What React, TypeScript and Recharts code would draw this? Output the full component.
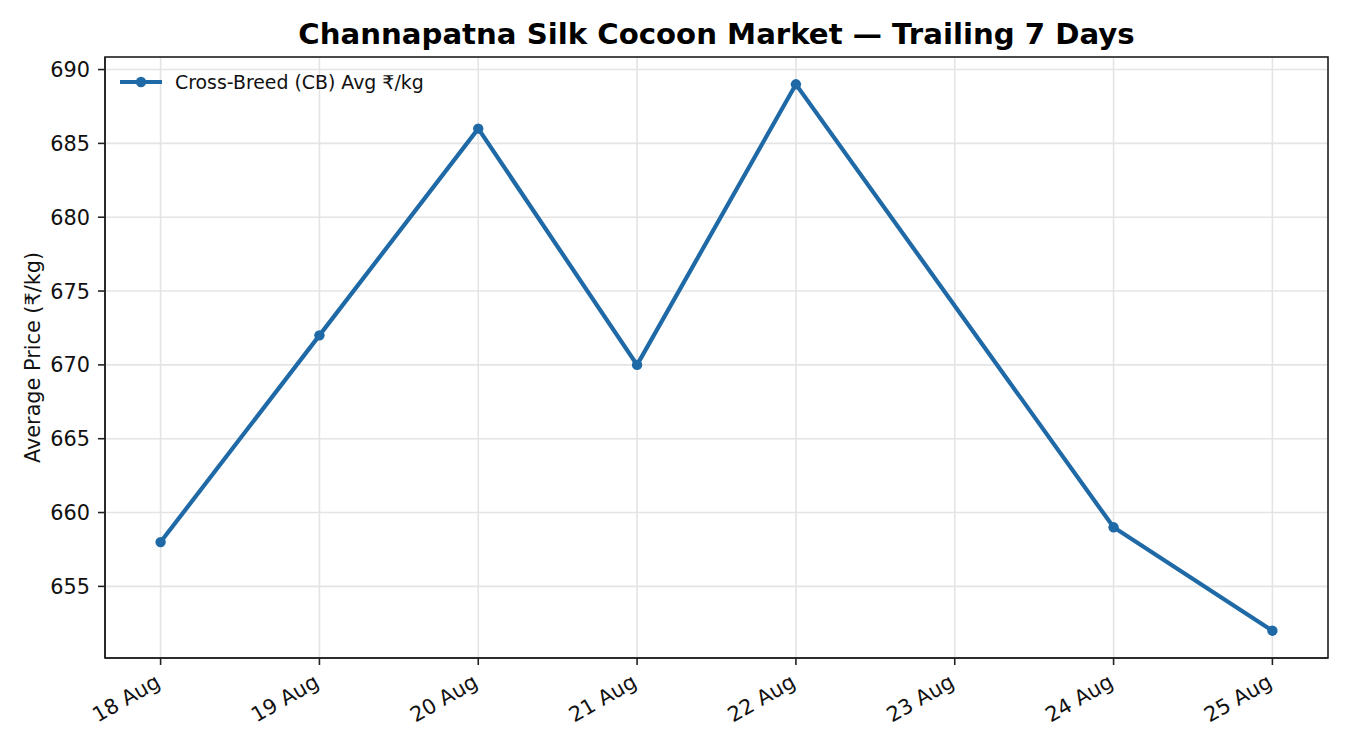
import React from 'react';
import { LineChart, Line, XAxis, YAxis, CartesianGrid } from 'recharts';

const dates = ['18 Aug', '19 Aug', '20 Aug', '21 Aug', '22 Aug', '23 Aug', '24 Aug', '25 Aug'];
// 23 Aug has no reading, the line just runs through it
const cbPrice: (number | null)[] = [658, 672, 686, 670, 689, null, 659, 652];
const priceTicks = [655, 660, 665, 670, 675, 680, 685, 690];

const BLUE = '#1f6aa6';
const FONT = '"DejaVu Sans", sans-serif';
const W = 1350;
const H = 750;
const M = { top: 57, right: 22, bottom: 0, left: 0 };
const Y_W = 105;
const X_H = 92;
const LW = 4.2;
const DOT_R = 5.2;

const data = dates.map((d, i) => ({ idx: i, date: d, price: cbPrice[i] }));

const DateTick = ({ x, y, payload }: any) => (
  <text
    x={x + 1}
    y={y + 19}
    transform={`rotate(-30, ${x + 1}, ${y + 19})`}
    textAnchor="end"
    fontSize={20.8}
    fontFamily={FONT}
    fill="#111"
  >
    {dates[payload.value]}
  </text>
);

const PriceTick = ({ x, y, payload }: any) => (
  <text x={x} y={y} dy="0.36em" textAnchor="end" fontSize={20.8} fontFamily={FONT} fill="#111">
    {payload.value}
  </text>
);

export default function App() {
  const plotX = M.left + Y_W;
  const plotY = M.top;
  const plotW = W - M.right - plotX;
  const plotH = H - M.bottom - X_H - plotY;

  return (
    <div style={{ position: 'absolute', left: 0, top: 0, width: W, height: H, background: '#fff' }}>
      <LineChart width={W} height={H} data={data} margin={M}>
        <CartesianGrid stroke="#e4e4e4" strokeWidth={1.6} />
        <XAxis
          dataKey="idx"
          type="number"
          domain={[-0.35, 7.35]}
          ticks={[0, 1, 2, 3, 4, 5, 6, 7]}
          height={X_H}
          tickSize={7}
          tick={<DateTick />}
          axisLine={{ stroke: '#222', strokeWidth: 1.6 }}
          tickLine={{ stroke: '#222', strokeWidth: 1.6 }}
          interval={0}
        />
        <YAxis
          type="number"
          domain={[650.15, 690.85]}
          ticks={priceTicks}
          width={Y_W}
          tickSize={7}
          tickMargin={8}
          tick={<PriceTick />}
          axisLine={{ stroke: '#222', strokeWidth: 1.6 }}
          tickLine={{ stroke: '#222', strokeWidth: 1.6 }}
          allowDataOverflow
        />
        <Line
          dataKey="price"
          stroke={BLUE}
          strokeWidth={LW}
          dot={{ r: DOT_R, fill: BLUE, stroke: BLUE, strokeWidth: 0 }}
          activeDot={false}
          connectNulls
          isAnimationActive={false}
        />
      </LineChart>
      <svg width={W} height={H} style={{ position: 'absolute', left: 0, top: 0, pointerEvents: 'none' }}>
        <rect x={plotX} y={plotY} width={plotW} height={plotH} fill="none" stroke="#222" strokeWidth={1.6} />
        <text x={plotX + plotW / 2} y={44} textAnchor="middle" fontSize={29.2} fontWeight="bold" fontFamily={FONT} fill="#000">
          Channapatna Silk Cocoon Market — Trailing 7 Days
        </text>
        <text
          x={40}
          y={plotY + plotH / 2}
          transform={`rotate(-90, 40, ${plotY + plotH / 2})`}
          textAnchor="middle"
          fontSize={20.8}
          fontFamily={FONT}
          fill="#111"
        >
          Average Price (₹/kg)
        </text>
        <g transform={`translate(${plotX + 15}, ${plotY + 11})`}>
          <line x1={0} y1={14} x2={42} y2={14} stroke={BLUE} strokeWidth={LW} />
          <circle cx={21} cy={14} r={DOT_R} fill={BLUE} />
          <text x={55} y={20.5} fontSize={18.9} fontFamily={FONT} fill="#111">
            Cross-Breed (CB) Avg ₹/kg
          </text>
        </g>
      </svg>
    </div>
  );
}
